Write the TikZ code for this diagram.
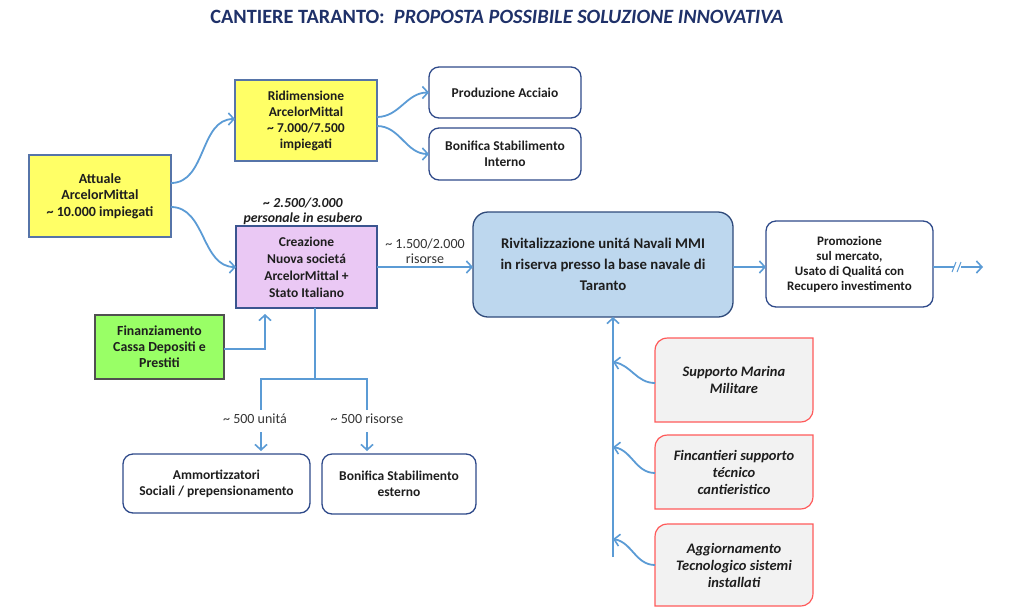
\documentclass[tikz,border=0pt]{standalone}
\usepackage{fontspec}
\setmainfont{Carlito}
\usetikzlibrary{arrows.meta,calc}
\definecolor{arr}{HTML}{5B9BD5}
\definecolor{txt}{HTML}{1E1E1E}
\definecolor{ttl}{HTML}{1F3169}
\definecolor{yel}{HTML}{FFFF66}
\definecolor{ybord}{HTML}{5674A8}
\definecolor{vio}{HTML}{EAC8F4}
\definecolor{vbord}{HTML}{3B5590}
\definecolor{grn}{HTML}{99FF66}
\definecolor{gbord}{HTML}{505050}
\definecolor{wbord}{HTML}{2F4A8A}
\definecolor{bfill}{HTML}{BDD7EE}
\definecolor{bbord}{HTML}{2F4A7A}
\definecolor{rfill}{HTML}{F2F2F2}
\definecolor{rbord}{HTML}{FF5A5A}
\definecolor{lbl}{HTML}{333333}
\pgfdeclarelayer{background}
\pgfsetlayers{background,main}
\newcommand\redframe[1]{%
  \draw[fill=rfill, draw=rbord, line width=1.2pt]
    (#1.south west) -- ([yshift=-13pt]#1.north west)
    .. controls ([yshift=-5pt]#1.north west) and ([xshift=5pt]#1.north west) .. ([xshift=13pt]#1.north west)
    -- (#1.north east) -- ([yshift=13pt]#1.south east)
    .. controls ([yshift=5pt]#1.south east) and ([xshift=-5pt]#1.south east) .. ([xshift=-13pt]#1.south east)
    -- cycle;}
\begin{document}
\begin{tikzpicture}[x=1pt,y=-1pt,
  base/.style={align=center, inner sep=2pt, outer sep=0pt, text=txt,
    font=\fontsize{13.5}{16}\selectfont\bfseries},
  ybox/.style={base, fill=yel, draw=ybord, line width=1.2pt},
  vbox/.style={base, fill=vio, draw=vbord, line width=1.2pt,
    font=\fontsize{13.5}{17}\selectfont\bfseries},
  gbox/.style={base, fill=grn, draw=gbord, line width=1.2pt,
    font=\fontsize{13.8}{16}\selectfont\bfseries},
  wbox/.style={base, fill=white, draw=wbord, line width=1.3pt, rounded corners=10pt},
  bbox/.style={base, fill=bfill, draw=bbord, line width=1.3pt, rounded corners=15pt,
    font=\fontsize{14.8}{21}\selectfont\bfseries},
  rbox/.style={base, font=\fontsize{14.5}{17}\selectfont\bfseries\itshape},
  lab/.style={align=center, inner sep=0pt, text=lbl, font=\fontsize{14}{15}\selectfont},
  conn/.style={draw=arr, line width=1.8pt, -{Straight Barb[length=5.5pt,width=12pt,line width=1.6pt]}},
  line/.style={draw=arr, line width=1.8pt}]
\useasboundingbox (0,0) rectangle (1024,611);

% title
\node[text=ttl, font=\fontsize{20.3}{22}\selectfont\bfseries, inner sep=0pt] (title) at (497,17)
  {CANTIERE TARANTO:\ \ \textit{PROPOSTA POSSIBILE SOLUZIONE INNOVATIVA}};

% boxes
\node[ybox, minimum width=142pt, minimum height=82pt, font=\fontsize{14}{16.5}\selectfont\bfseries] (att) at (100,196)
  {Attuale\\ArcelorMittal\\\textasciitilde{} 10.000 impiegati};
\node[ybox, minimum width=142pt, minimum height=81pt] (rid) at (306,120.5)
  {Ridimensione\\ArcelorMittal\\\textasciitilde{} 7.000/7.500\\impiegati};
\node[wbox, minimum width=152pt, minimum height=51pt] (prod) at (505,92.5)
  {Produzione Acciaio};
\node[wbox, minimum width=152pt, minimum height=52pt] (bonint) at (505,154)
  {Bonifica Stabilimento\\Interno};
\node[vbox, minimum width=141pt, minimum height=82pt] (crea) at (306.5,267)
  {Creazione\\Nuova societá\\ArcelorMittal +\\Stato Italiano};
\node[gbox, minimum width=129pt, minimum height=64pt] (fin) at (159.5,347)
  {Finanziamento\\Cassa Depositi e\\Prestiti};
\node[bbox, minimum width=260pt, minimum height=105pt] (riv) at (603,264.5)
  {Rivitalizzazione unitá Navali MMI\\in riserva presso la base navale di\\Taranto};
\node[wbox, minimum width=167pt, minimum height=86pt,
  font=\fontsize{13}{15}\selectfont\bfseries] (prom) at (849.5,264)
  {Promozione\\sul mercato,\\Usato di Qualitá con\\Recupero investimento};
\node[wbox, minimum width=187pt, minimum height=59pt] (amm) at (216.5,483.5)
  {Ammortizzatori\\Sociali / prepensionamento};
\node[wbox, minimum width=154pt, minimum height=60pt] (bonest) at (399,484)
  {Bonifica Stabilimento\\esterno};
\node[rbox, minimum width=158pt, minimum height=84pt] (s1) at (734,380)
  {Supporto Marina\\Militare};
\node[rbox, minimum width=158pt, minimum height=74pt] (s2) at (734,472)
  {Fincantieri supporto\\técnico\\cantieristico};
\node[rbox, minimum width=158pt, minimum height=82pt] (s3) at (734,565)
  {Aggiornamento\\Tecnologico sistemi\\installati};
\begin{pgfonlayer}{background}
\redframe{s1}\redframe{s2}\redframe{s3}
\end{pgfonlayer}

% labels
\node[base, font=\fontsize{13.8}{15}\selectfont\bfseries\itshape, inner sep=0pt] (esub) at (303,211.5)
  {\textasciitilde{} 2.500/3.000\\personale in esubero};
\node[lab] (ris) at (425,251.5) {\textasciitilde{} 1.500/2.000\\risorse};
\node[lab] (l1) at (255,419) {\textasciitilde{} 500 unitá};
\node[lab] (l2) at (367,419) {\textasciitilde{} 500 risorse};

% connectors
\draw[conn] ([yshift=13pt]att.east) to[out=0,in=180] ([yshift=1.5pt]rid.west);
\draw[conn] ([yshift=-11pt]att.east) to[out=0,in=180] (crea.west);
\draw[conn] ([yshift=3.5pt]rid.east) to[out=0,in=180] (prod.west);
\draw[conn] ([yshift=-5.5pt]rid.east) to[out=0,in=180] (bonint.west);
\draw[conn] (crea.east) -- (crea.east -| riv.west);
\draw[conn] ([yshift=-2.5pt]riv.east) -- ([yshift=-2.5pt]riv.east -| prom.west);
\coordinate (fup) at ([xshift=-41.5pt,yshift=-6pt]crea.south);
\draw[conn] ([yshift=-2pt]fin.east) -| (fup);

% split below Creazione
\coordinate (split) at (315,379);
\coordinate (b1) at (261,410);
\coordinate (b2) at (367,410);
\draw[line, line width=2.6pt] ([xshift=8.5pt]crea.south) -- (split);
\draw[line] (split) -| (b1);
\draw[line] (split) -| (b2);
\coordinate (a1) at (261,432);
\coordinate (a2) at (367,432);
\draw[conn] (a1) -- ([yshift=3pt]a1 |- amm.north);
\draw[conn] (a2) -- ([yshift=3pt]a2 |- bonest.north);

% output with break
\coordinate (brk1) at (954,267);
\coordinate (brk2) at (961,267);
\coordinate (outend) at (983,267);
\draw[line] ([yshift=-3pt]prom.east) -- (brk1);
\draw[conn] (brk2) -- (outend);
\draw[draw=arr, line width=1pt] (952,272) -- (956,262) (957,272) -- (961,262);

% support column
\coordinate (vb) at (613,557);
\draw[conn] (vb) -- ([xshift=10pt]riv.south);
\coordinate (c1) at (613,362);
\coordinate (c2) at (613,447);
\coordinate (c3) at (613,539);
\draw[conn] ([yshift=-3pt]s1.west) to[out=180,in=-10] (c1);
\draw[conn] ([yshift=-1pt]s2.west) to[out=180,in=-10] (c2);
\draw[conn] (s3.west) to[out=180,in=-10] (c3);
\end{tikzpicture}
\end{document}
